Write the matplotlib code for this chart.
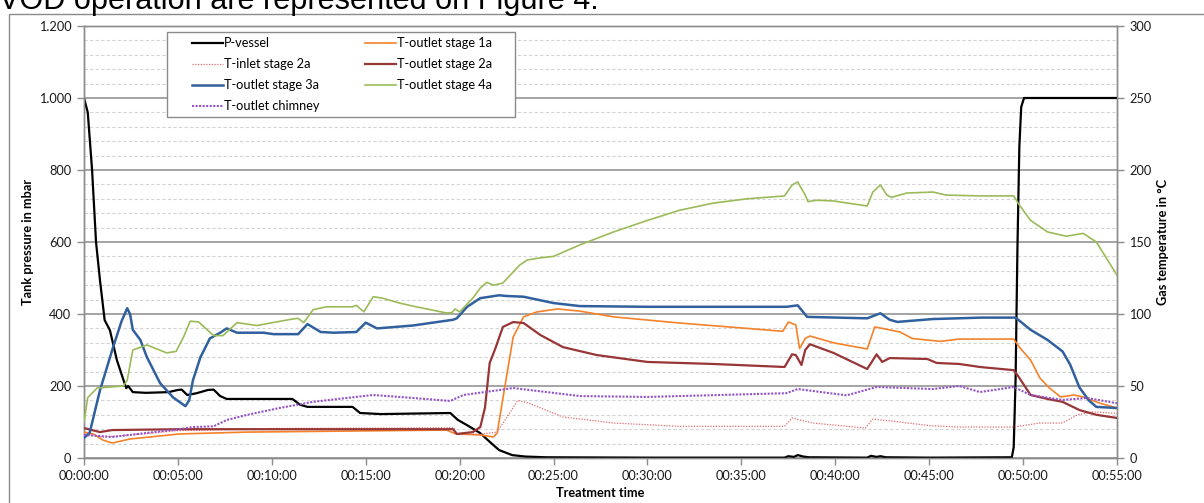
import matplotlib
matplotlib.use("Agg")
import matplotlib.pyplot as plt
from matplotlib.ticker import MultipleLocator, FuncFormatter
from matplotlib.patches import Rectangle

# ---------------- data (time in minutes) ----------------
p_vessel_t = [0, 0.2, 0.43, 0.64, 0.85, 1.1, 1.38, 1.75, 2.1, 2.25, 2.35, 2.6, 3.3, 4.5, 5.0, 5.2,
              5.5, 6.0, 6.6, 6.9, 7.25, 7.6, 9.0, 11.1, 11.5, 11.9, 14.3, 14.7, 15.8, 19.5, 19.9,
              20.5, 21.1, 21.6, 22.1, 22.8, 23.5, 24.6, 30, 37.3, 37.5, 37.8, 38.0, 38.3, 38.6,
              41.7, 41.9, 42.2, 42.4, 42.7, 45, 49.4, 49.5, 49.6, 49.7, 49.8, 49.9, 50.05, 55]
p_vessel = [1000, 960, 800, 600, 494, 383, 355, 272, 217, 194, 200, 183, 181, 183, 189, 190,
            175, 180, 189, 190, 172, 164, 164, 164, 148, 142, 142, 125, 122, 125, 106,
            88, 69, 45, 22, 8, 4, 2, 1, 1, 5, 3, 8, 4, 2,
            1, 6, 3, 5, 2, 1, 2, 30, 217, 586, 864, 975, 1000, 1000]

t_out1a_t = [0, 0.5, 1.0, 1.5, 2.45, 5.1, 8.7, 19.3, 19.8, 21.1, 21.8, 22.0, 22.4, 22.85, 23.4,
             24.1, 25.2, 26.4, 28.2, 31.7, 35.3, 37.2, 37.5, 37.9, 38.1, 38.4, 38.65, 39.9, 41.7,
             42.1, 42.5, 43.45, 44.1, 45.6, 46.6, 49.5, 49.8, 50.4, 50.9, 51.4, 52.0, 52.7, 53.2,
             54.1, 55]
t_out1a = [18, 16.7, 12.5, 10.4, 13.2, 16.7, 18, 19.4, 16.7, 16, 14.6, 17.4, 49, 84, 98,
           101.4, 103.5, 102, 98, 93.75, 90, 88, 94.4, 92.4, 76, 83, 84.7, 80, 75.7,
           91, 90, 87.5, 83, 81, 82.6, 82.6, 77, 68, 55.5, 48.6, 42.4, 43.75, 42.4,
           38, 34.7]

t_in2a_t = [0, 1.0, 2.0, 5, 10, 19.7, 19.85, 21.1, 22.0, 22.3, 23.1, 23.7, 25.5, 28.2, 31.7,
            37.3, 37.7, 38.8, 41.6, 42.0, 43.45, 45, 46.6, 49.5, 50.9, 52.1, 52.9, 53.7, 55]
t_in2a = [17, 14.5, 15.5, 19, 20.5, 21, 16.7, 16.5, 18, 24, 40, 38, 28.5, 24.3, 22,
          22, 27.8, 24.3, 20.8, 27, 25, 22.5, 21.5, 21.5, 24.3, 24.3, 30, 32, 31]

t_out2a_t = [0, 0.85, 1.5, 5.1, 19.65, 19.85, 20.7, 21.1, 21.35, 21.6, 21.9, 22.3, 22.85, 23.4,
             24.3, 25.5, 27.3, 30, 33.5, 37.3, 37.7, 37.9, 38.2, 38.4, 38.65, 39.9, 41.7, 42.2,
             42.5, 42.9, 44.9, 45.4, 46.6, 47.7, 49.5, 49.7, 50.4, 51.3, 52.1, 53, 53.9, 55]
t_out2a = [20.8, 18, 19.4, 20, 20, 16.7, 18, 21.5, 35, 66, 76, 91, 94.4, 93.75,
           85.4, 77, 71.5, 66.7, 65.3, 63.2, 72, 71.5, 64.6, 75, 79, 73, 61.8, 72,
           66.7, 69.4, 68.75, 66, 65.3, 63.2, 61, 57.6, 43.75, 41, 39, 33.3, 30, 27.8]

t_out3a_t = [0, 0.3, 0.85, 1.55, 2.0, 2.3, 2.45, 2.6, 3.0, 3.35, 4.05, 4.75, 5.4, 5.6, 5.8, 6.2,
             6.7, 7.25, 7.6, 8.15, 9.55, 10.1, 11.4, 11.9, 12.6, 13.3, 14.5, 15.0, 15.6, 17.5,
             19.65, 19.85, 20.4, 21.1, 22.1, 22.5, 23.4, 25, 26.4, 30, 37.4, 38.0, 38.5, 41.7,
             42.4, 42.9, 43.3, 45.2, 47.8, 49.6, 50.4, 51.3, 52.1, 52.5, 53.0, 53.5, 53.9, 55]
t_out3a = [14, 17.4, 47, 77, 95, 104, 100, 89, 82, 70, 52, 42, 36, 40, 54, 70,
           83, 87, 90, 87, 87, 86, 86, 93, 87.5, 87, 87.5, 94, 90, 92,
           96, 97, 105, 111, 113, 112.5, 112, 107.6, 105.5, 105, 105, 106, 98, 97,
           100.5, 96, 94.5, 96.5, 97.5, 97.5, 89, 82, 74, 65, 49, 40, 35.5, 34.7]

t_out4a_t = [0, 0.2, 0.7, 2.1, 2.3, 2.6, 3.35, 4.4, 4.9, 5.3, 5.65, 6.1, 6.9, 7.4, 8.15, 9.2,
             11.1, 11.4, 11.7, 12.2, 12.9, 14.3, 14.5, 14.9, 15.4, 15.9, 16.8, 17.5, 19.3, 19.6,
             19.75, 20.0, 20.7, 21.1, 21.45, 21.8, 22.3, 23.2, 23.6, 24.3, 25, 26.4, 28.2, 30,
             31.7, 33.5, 35.3, 37.3, 37.7, 38.0, 38.4, 38.55, 39.0, 39.9, 41.7, 42.0, 42.4,
             42.75, 43.0, 43.8, 45.2, 45.9, 47.7, 49.5, 49.8, 50.4, 51.3, 52.3, 53.2, 53.9, 55]
t_out4a = [25, 42, 48.6, 50, 54, 75, 78.5, 73, 74, 84, 95, 94.5, 85, 85, 94, 92,
           96.5, 97, 94, 103, 105, 105, 106, 101.5, 112, 111, 107.6, 105.5, 100.7, 101,
           103.5, 101.4, 111, 118, 122, 120, 121.5, 134, 137.5, 139, 140, 148, 157, 165,
           172, 177, 180, 182, 189.6, 191.7, 182.6, 178, 179, 178.5, 175, 184.7, 189.6,
           182.6, 181, 184, 184.7, 182.6, 182, 182, 175.7, 165, 157, 154, 156, 150, 127]

t_chim_t = [0, 1.5, 3.35, 5.1, 5.8, 6.9, 7.6, 8.7, 10.4, 12.2, 14, 15.4, 17.5, 19.5, 20.2, 22,
            22.85, 26.4, 30, 37.4, 38, 40.6, 42.2, 45.2, 46.6, 47.7, 49.5, 50.4, 52.1, 53.4, 55]
t_chim = [16, 14.6, 17.4, 20, 21.5, 22, 26.4, 30, 34.7, 39, 41.7, 43.75, 41.7, 39.6, 43.75, 47,
          48.6, 43, 42.4, 45, 47.9, 43.5, 49.3, 47.9, 50, 45.8, 49.3, 43.75, 40.3, 41.7, 38]

legend_labels = ["P-vessel", "T-outlet stage 1a", "T-inlet stage 2a", "T-outlet stage 2a",
                 "T-outlet stage 3a", "T-outlet stage 4a", "T-outlet chimney"]
x_ticks_min = list(range(0, 56, 5))

# ---------------- styling ----------------
FONT = ["Lato", "DejaVu Sans"]
plt.rcParams["font.family"] = FONT
FS = 9.2
C_BLACK = "#000000"
C_ORANGE = "#F4822A"
C_PINK = "#E46A6E"
C_DRED = "#983536"
C_BLUE = "#31609E"
C_GREEN = "#9BBB59"
C_PURPLE = "#9254C8"
GRID_MAJ = "#8C8C8C"
GRID_MIN = "#D4D4D4"

W, H = 1204, 503
fig = plt.figure(figsize=(W / 100, H / 100), dpi=100)
fig.patch.set_facecolor("white")

# cropped paragraph text on top (cut off in the reference as well)
title = fig.text(-1 / W, 1 - 8.5 / H, "VOD operation are represented on Figure 4.",
                 family="Liberation Sans", fontsize=20, va="baseline", ha="left", color="black")
fig.canvas.draw()
bb = title.get_window_extent()
title.set_fontsize(20 * 598 / bb.width)

# outer chart border
fig.patches.append(Rectangle((9 / W, -0.2), 1.2, 1 - 13.5 / H + 0.2, transform=fig.transFigure,
                             fill=False, edgecolor="#8A8A8A", lw=1.0, zorder=0))

ax = fig.add_axes([84 / W, 1 - 458 / H, 1033 / W, 432 / H])
ax.set_facecolor("none")
ax2 = ax.twinx()

# grid
ax.set_ylim(0, 1200)
ax.yaxis.set_major_locator(MultipleLocator(200))
ax.yaxis.set_minor_locator(MultipleLocator(40))
ax.grid(which="major", axis="y", color=GRID_MAJ, lw=1.1, zorder=0)
ax.grid(which="minor", axis="y", color=GRID_MIN, lw=0.8, ls=(0, (3, 2)), zorder=0)
ax.grid(False, axis="x")
ax.set_axisbelow(True)

ax.set_xlim(0, 55)
ax.set_xticks(x_ticks_min)
ax.xaxis.set_major_formatter(FuncFormatter(lambda m, p: f"00:{int(round(m)):02d}:00"))
ax.yaxis.set_major_formatter(FuncFormatter(lambda v, p: f"{int(v):,}".replace(",", ".")))

ax2.set_ylim(0, 300)
ax2.yaxis.set_major_locator(MultipleLocator(50))

for a in (ax, ax2):
    for s in a.spines.values():
        s.set_color(GRID_MAJ)
        s.set_linewidth(1.0)
    a.tick_params(which="major", direction="out", length=5, width=1.0, color=GRID_MAJ,
                  labelsize=FS, labelcolor="#1a1a1a", pad=4)
    a.tick_params(which="minor", length=0)

# lines
lp, = ax.plot(p_vessel_t, p_vessel, color=C_BLACK, lw=1.6, zorder=3)
l1a, = ax2.plot(t_out1a_t, t_out1a, color=C_ORANGE, lw=1.2, zorder=3)
li2, = ax2.plot(t_in2a_t, t_in2a, color=C_PINK, lw=0.9, ls=(0, (1, 1.2)), zorder=3)
l2a, = ax2.plot(t_out2a_t, t_out2a, color=C_DRED, lw=1.6, zorder=3)
l3a, = ax2.plot(t_out3a_t, t_out3a, color=C_BLUE, lw=1.8, zorder=3)
l4a, = ax2.plot(t_out4a_t, t_out4a, color=C_GREEN, lw=1.2, zorder=3)
lch, = ax2.plot(t_chim_t, t_chim, color=C_PURPLE, lw=1.5, ls=(0, (1, 0.7)), zorder=3)


def ax_x(px):
    return (px - 84) / 1033


def ax_y(py):
    return (458 - py) / 432


# axis labels
ax.set_ylabel("Tank pressure in mbar", fontsize=FS, fontweight="bold")
ax.yaxis.set_label_coords(ax_x(34), 0.5)
ax2.set_ylabel("Gas temperature in °C", fontsize=FS, fontweight="bold", rotation=90)
ax2.yaxis.set_label_coords(ax_x(1157), 0.5)
ax.set_xlabel("Treatment time", fontsize=FS, fontweight="bold")
ax.xaxis.set_label_coords(0.5, ax_y(487))

# legend frame + two legend columns
frame = Rectangle((ax_x(167), ax_y(117)), ax_x(515) - ax_x(167), ax_y(32) - ax_y(117),
                  transform=ax2.transAxes, facecolor="white", edgecolor="#8A8A8A", lw=1.0,
                  zorder=8)
ax2.add_patch(frame)

handles = [lp, l1a, li2, l2a, l3a, l4a, lch]
col1 = [0, 2, 4, 6]
col2 = [1, 3, 5]
common = dict(loc="upper left", frameon=False, fontsize=FS, borderpad=0, borderaxespad=0,
              handlelength=2.4, handletextpad=0.12, labelspacing=0.71)
leg1 = ax2.legend([handles[i] for i in col1], [legend_labels[i] for i in col1],
                  bbox_to_anchor=(ax_x(192), ax_y(37)), **common)
leg1.set_zorder(9)
ax2.add_artist(leg1)
leg2 = ax2.legend([handles[i] for i in col2], [legend_labels[i] for i in col2],
                  bbox_to_anchor=(ax_x(365), ax_y(37)), **common)
leg2.set_zorder(9)

fig.savefig("out.png", dpi=100, facecolor="white")
